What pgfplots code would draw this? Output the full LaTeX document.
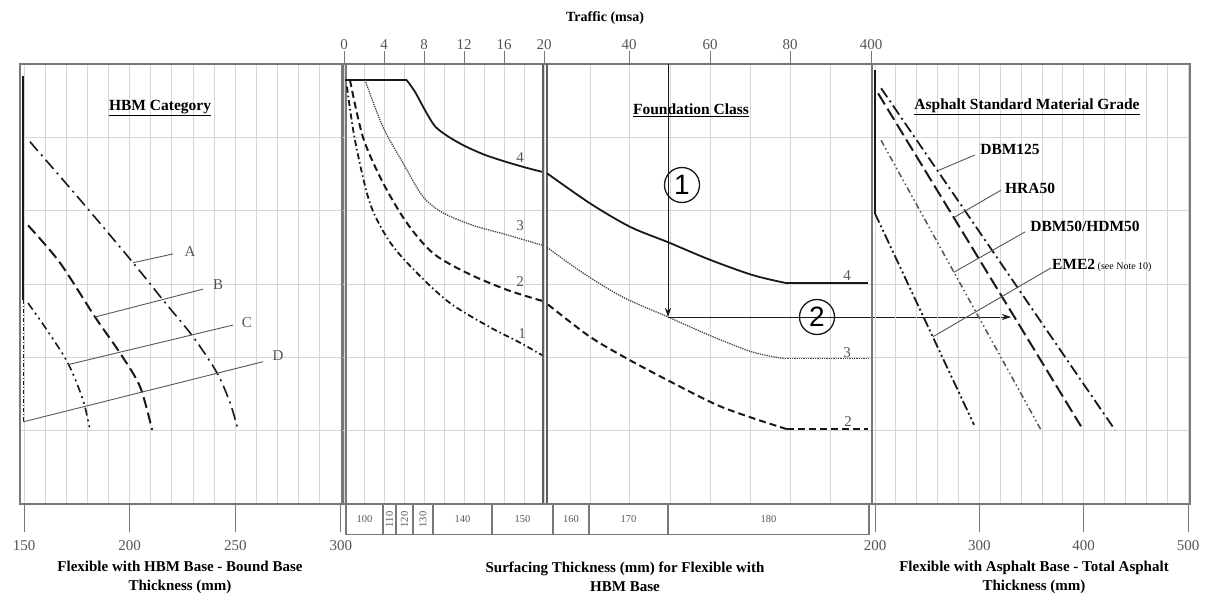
\documentclass[border=0pt]{standalone}
\usepackage{pgfplots}
\pgfplotsset{compat=1.18}
\usepackage{fontspec}
\setmainfont{Liberation Serif}
\setsansfont{Liberation Sans}
\usetikzlibrary{arrows.meta}
\definecolor{frame}{RGB}{120,120,120}
\definecolor{divc}{RGB}{95,95,95}
\definecolor{gridc}{RGB}{214,214,214}
\definecolor{ink}{RGB}{25,25,25}
\definecolor{lbl}{RGB}{85,85,85}
\newcommand{\tf}{\fontsize{15}{18}\selectfont}
\newcommand{\bft}{\fontsize{15.5}{19}\selectfont\bfseries}
\pgfplotsset{
  panel/.style={
    scale only axis, height=440pt, ymin=0, ymax=6,
    ytick={1,2,3,4,5}, yticklabels={}, y tick style={draw=none},
    ymajorgrids, xmajorgrids, xminorgrids,
    major grid style={gridc, line width=0.9pt},
    minor grid style={gridc, line width=0.9pt},
    axis line style={frame, line width=1.6pt},
    tick align=outside, minor tick length=0pt,
    x tick style={frame, line width=1pt},
    clip=false,
    tick label style={font=\tf, text=lbl},
    /pgf/number format/assume math mode=true,
  },
  lead/.style={lbl, line width=0.9pt, forget plot},
}
\tikzset{
  cell/.style={frame, line width=1.2pt},
  celltxt/.style={font=\fontsize{10.5}{10.5}\selectfont, text=lbl},
}
\begin{document}
\begin{tikzpicture}[x=1pt,y=1pt]
\useasboundingbox (0,0) rectangle (1207,597);

% ---------------- left panel ----------------
\begin{axis}[panel, at={(19.8pt,93pt)}, anchor=south west, width=323.3pt,
  xmin=148, xmax=301, xtick={150,200,250,300}, minor xtick={160,170,...,290},
  xtick pos=left, xticklabel pos=left, major tick length=28pt,
  xticklabel style={yshift=-5pt}]
% D (vertical)
\addplot[ink, line width=2.6pt] coordinates {(149.6,5.84) (149.6,2.78)};
\addplot[ink, line width=1.2pt, dash pattern=on 4pt off 2pt on 1pt off 2pt] coordinates {(149.6,2.78) (149.6,1.12)};
% A
\addplot[ink, line width=1.6pt, smooth, dash pattern=on 12pt off 5pt on 2pt off 5pt] coordinates {(152.8,4.94) (176.5,4.15) (201.6,3.29) (215.8,2.78) (230.0,2.28) (241.3,1.79) (247.5,1.38) (251.3,1.01)};
% B
\addplot[ink, line width=2pt, smooth, dash pattern=on 11pt off 5pt] coordinates {(151.9,3.80) (167.0,3.29) (183.6,2.55) (195.4,2.06) (204.9,1.60) (210.6,1.01)};
% C
\addplot[ink, line width=1.6pt, smooth, dash pattern=on 8pt off 4pt on 2pt off 4pt on 2pt off 4pt] coordinates {(151.9,2.74) (160.9,2.37) (170.8,1.92) (177.9,1.42) (181.2,1.01)};
% leaders
\addplot[lead] coordinates {(201.6,3.29) (220.5,3.41)};
\addplot[lead] coordinates {(183.6,2.55) (234.7,2.93)};
\addplot[lead] coordinates {(170.8,1.90) (248.9,2.44)};
\addplot[lead] coordinates {(149.6,1.12) (263.1,1.94)};
\node[font=\tf, text=lbl] at (axis cs:228.6,3.44) {A};
\node[font=\tf, text=lbl] at (axis cs:241.8,2.99) {B};
\node[font=\tf, text=lbl] at (axis cs:255.5,2.48) {C};
\node[font=\tf, text=lbl] at (axis cs:270.2,2.02) {D};
\node[font=\bft] at (axis cs:214.4,5.40) {\underline{HBM Category}};
\end{axis}

% ---------------- middle panel ----------------
\begin{axis}[panel, at={(342pt,93pt)}, anchor=south west, width=529.5pt,
  xmin=-0.2, xmax=52.75,
  xtick={0,4,8,12,16,20,28.5,36.6,44.6,52.7},
  xticklabels={0,4,8,12,16,20,40,60,80,400},
  minor xtick={2,6,10,14,18,24.6,32.6,40.6,48.6},
  xtick pos=right, xticklabel pos=right, major tick length=13pt,
  xticklabel style={yshift=-2pt}]
% divider at 20 msa
\draw[divc, line width=2pt] (axis cs:19.9,0) -- (axis cs:19.9,6);
\draw[divc, line width=2pt] (axis cs:20.3,0) -- (axis cs:20.3,6);
\draw[frame, line width=1.2pt] (axis cs:0.2,0) -- (axis cs:0.2,6);
% curve 4
\addplot[ink, line width=1.8pt] coordinates {(0.1,5.78) (6.27,5.78)};
\addplot[ink, line width=1.8pt, smooth, tension=0.45] coordinates {(6.27,5.78) (7.1,5.62) (8.1,5.37) (9.1,5.15) (10.43,5.01) (12.1,4.88) (14.1,4.76) (16.1,4.67) (18.1,4.59) (19.8,4.53)};
\addplot[ink, line width=1.8pt, smooth, tension=0.5] coordinates {(20.3,4.51) (24.6,4.10) (28.6,3.78) (32.4,3.57) (36.6,3.33) (40.9,3.12) (44.3,3.01)};
\addplot[ink, line width=1.8pt] coordinates {(44.3,3.01) (52.4,3.01)};
% curve 3
\addplot[ink!80, line width=1.3pt, densely dotted, smooth, tension=0.5] coordinates {(2.1,5.78) (3.9,5.14) (5.9,4.65) (7.9,4.19) (9.9,3.97) (12.9,3.80) (16.3,3.67) (19.8,3.53)};
\addplot[ink!80, line width=1.3pt, densely dotted, smooth, tension=0.5] coordinates {(20.3,3.50) (23.9,3.15) (27.9,2.82) (32.4,2.55) (36.9,2.28) (40.9,2.07) (44.1,1.98)};
\addplot[ink!80, line width=1.3pt, densely dotted] coordinates {(44.1,1.98) (52.4,1.98)};
% curve 2
\addplot[ink, line width=2pt, smooth, tension=0.5, dash pattern=on 7pt off 4pt] coordinates {(0.6,5.78) (1.9,5.00) (3.9,4.38) (6.3,3.83) (8.9,3.42) (12.3,3.15) (16.3,2.92) (19.8,2.77)};
\addplot[ink, line width=2pt, smooth, tension=0.5, dash pattern=on 7pt off 4pt] coordinates {(20.4,2.72) (24.6,2.28) (28.6,1.96) (32.9,1.65) (37.3,1.35) (40.9,1.17) (44.3,1.02)};
\addplot[ink, line width=2pt, dash pattern=on 7pt off 4pt] coordinates {(44.3,1.02) (52.4,1.02)};
% curve 1
\addplot[ink, line width=1.8pt, smooth, tension=0.5, dash pattern=on 6pt off 3pt on 1.5pt off 3pt] coordinates {(0.3,5.69) (1.1,4.96) (2.6,4.10) (4.6,3.57) (7.3,3.15) (10.6,2.74) (14.6,2.41) (17.6,2.20) (19.8,2.03)};
% curve labels
\node[font=\tf, text=lbl] at (axis cs:17.6,4.73) {4};
\node[font=\tf, text=lbl] at (axis cs:17.6,3.79) {3};
\node[font=\tf, text=lbl] at (axis cs:17.6,3.03) {2};
\node[font=\tf, text=lbl] at (axis cs:17.8,2.33) {1};
\node[font=\tf, text=lbl] at (axis cs:50.3,3.12) {4};
\node[font=\tf, text=lbl] at (axis cs:50.3,2.07) {3};
\node[font=\tf, text=lbl] at (axis cs:50.4,1.12) {2};
\node[font=\bft] at (axis cs:34.7,5.37) {\underline{Foundation Class}};
% worked example
\draw[ink, line width=0.9pt, -{Stealth[length=9pt,width=6pt]}] (axis cs:32.4,6) -- (axis cs:32.4,2.55);
\draw[ink, line width=0.9pt, -{Stealth[length=9pt,width=6pt]}] (axis cs:32.4,2.55) -- (axis cs:66.7,2.55);
\draw[ink, line width=1.3pt] (axis cs:33.8,4.35) circle[radius=17.5pt];
\node[font=\sffamily\fontsize{28}{28}\selectfont] at (axis cs:33.8,4.35) {1};
\draw[ink, line width=1.3pt] (axis cs:47.3,2.55) circle[radius=17.5pt];
\node[font=\sffamily\fontsize{28}{28}\selectfont] at (axis cs:47.3,2.55) {2};
% surfacing thickness row
\draw[cell] (axis cs:0.2,0) rectangle (axis cs:52.5,-0.42);
\draw[cell] (axis cs:3.9,0) -- (axis cs:3.9,-0.42);
\draw[cell] (axis cs:5.2,0) -- (axis cs:5.2,-0.42);
\draw[cell] (axis cs:6.9,0) -- (axis cs:6.9,-0.42);
\draw[cell] (axis cs:8.9,0) -- (axis cs:8.9,-0.42);
\draw[cell] (axis cs:14.8,0) -- (axis cs:14.8,-0.42);
\draw[cell] (axis cs:20.9,0) -- (axis cs:20.9,-0.42);
\draw[cell] (axis cs:24.5,0) -- (axis cs:24.5,-0.42);
\draw[cell] (axis cs:32.4,0) -- (axis cs:32.4,-0.42);
\node[celltxt] at (axis cs:2.05,-0.21) {100};
\node[celltxt, rotate=90] at (axis cs:4.55,-0.21) {110};
\node[celltxt, rotate=90] at (axis cs:6.05,-0.21) {120};
\node[celltxt, rotate=90] at (axis cs:7.9,-0.21) {130};
\node[celltxt] at (axis cs:11.85,-0.21) {140};
\node[celltxt] at (axis cs:17.85,-0.21) {150};
\node[celltxt] at (axis cs:22.7,-0.21) {160};
\node[celltxt] at (axis cs:28.45,-0.21) {170};
\node[celltxt] at (axis cs:42.45,-0.21) {180};
\end{axis}

% ---------------- right panel ----------------
\begin{axis}[panel, at={(871.9pt,93pt)}, anchor=south west, width=318.2pt,
  xmin=197, xmax=502, xtick={200,300,400,500}, minor xtick={220,240,...,480},
  xtick pos=left, xticklabel pos=left, major tick length=28pt,
  xticklabel style={yshift=-5pt}]
\addplot[ink, line width=2.6pt] coordinates {(200,5.92) (200,3.96)};
% EME2
\addplot[ink, line width=1.8pt, dash pattern=on 10pt off 3pt on 2pt off 3pt on 2pt off 3pt] coordinates {(200.0,3.96) (294.9,1.08)};
% DBM50/HDM50
\addplot[ink!75, line width=1.5pt, dash pattern=on 6pt off 3pt on 1.5pt off 3pt on 1.5pt off 3pt] coordinates {(205.8,4.96) (359.1,1.01)};
% HRA50
\addplot[ink, line width=2pt, dash pattern=on 13pt off 5pt] coordinates {(202.9,5.60) (397.4,1.06)};
% DBM125
\addplot[ink, line width=1.8pt, dash pattern=on 11pt off 4pt on 2pt off 4pt] coordinates {(205.8,5.67) (430.0,1.01)};
% leaders
\addplot[lead] coordinates {(261.0,4.55) (295.8,4.76)};
\addplot[lead] coordinates {(276.0,3.91) (320.8,4.28)};
\addplot[lead] coordinates {(275.5,3.16) (343.8,3.71)};
\addplot[lead] coordinates {(255.4,2.28) (368.7,3.22)};
\node[font=\bft] at (axis cs:329.4,4.83) {DBM125};
\node[font=\bft] at (axis cs:348.6,4.31) {HRA50};
\node[font=\bft] at (axis cs:401.3,3.78) {DBM50/HDM50};
\node[font=\bft, anchor=west, inner sep=0pt] at (axis cs:369.5,3.26) {EME2\,{\mdseries\fontsize{10}{10}\selectfont (see Note 10)}};
\node[font=\bft] at (axis cs:345.7,5.41) {\underline{Asphalt Standard Material Grade}};
\end{axis}

% ---------------- titles ----------------
\node[font=\fontsize{14}{16}\selectfont\bfseries] at (605,579) {Traffic (msa)};
\node[font=\fontsize{15}{19}\selectfont\bfseries, align=center] at (180,20) {Flexible with HBM Base - Bound Base\\Thickness (mm)};
\node[font=\fontsize{15}{19}\selectfont\bfseries, align=center] at (625,20) {Surfacing Thickness (mm) for Flexible with\\HBM Base};
\node[font=\fontsize{15}{19}\selectfont\bfseries, align=center] at (1034,20) {Flexible with Asphalt Base - Total Asphalt\\Thickness (mm)};
\end{tikzpicture}
\end{document}
